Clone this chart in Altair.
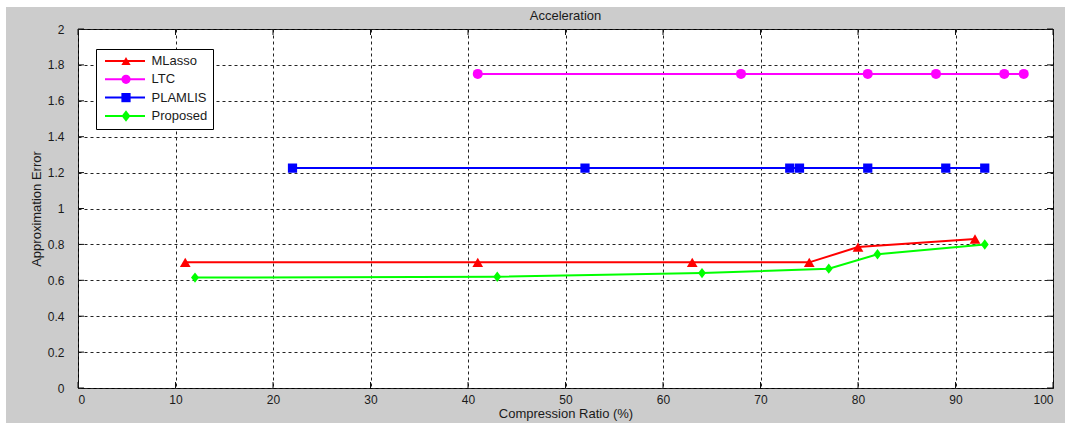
import altair as alt
import pandas as pd

# ---- data ----
series_names = ["MLasso", "LTC", "PLAMLIS", "Proposed"]
series_colors = ["#ff0000", "#ff00ff", "#0000ff", "#00ff00"]

mlasso_x = [11, 41, 63, 75, 80, 92]
mlasso_y = [0.70, 0.70, 0.70, 0.70, 0.785, 0.83]

ltc_x = [41, 68, 81, 88, 95, 97]
ltc_y = [1.75, 1.75, 1.75, 1.75, 1.75, 1.75]

plamlis_x = [22, 52, 73, 74, 81, 89, 93]
plamlis_y = [1.225, 1.225, 1.225, 1.225, 1.225, 1.225, 1.225]

proposed_x = [12, 43, 64, 77, 82, 93]
proposed_y = [0.615, 0.62, 0.64, 0.665, 0.745, 0.80]

x_ticks = [0, 10, 20, 30, 40, 50, 60, 70, 80, 90, 100]
y_ticks = [0, 0.2, 0.4, 0.6, 0.8, 1, 1.2, 1.4, 1.6, 1.8, 2]

# ---- build table ----
rows = []
for name, xs, ys in [("MLasso", mlasso_x, mlasso_y), ("LTC", ltc_x, ltc_y),
                     ("PLAMLIS", plamlis_x, plamlis_y), ("Proposed", proposed_x, proposed_y)]:
    for xv, yv in zip(xs, ys):
        rows.append({"series": name, "series2": name, "x": xv, "y": yv})
df = pd.DataFrame(rows)
xt = pd.DataFrame({"v": x_ticks})
yt = pd.DataFrame({"v": y_ticks})
one = pd.DataFrame({"k": [0]})

W, H = 975, 359
FONT = "Liberation Sans"
TXT = "#1a1a1a"
GRID = "#222222"

xscale = alt.Scale(domain=[0, 100], nice=False, zero=False)
yscale = alt.Scale(domain=[0, 2], nice=False, zero=False)

x_axis = alt.Axis(values=x_ticks, grid=True, gridDash=[3, 3], gridColor=GRID,
                  gridOpacity=1, domain=False, ticks=False, labelPadding=6,
                  labelFont=FONT, labelFontSize=12, labelColor=TXT,
                  titleFont=FONT, titleFontSize=13, titleFontWeight="normal",
                  titleColor=TXT, titlePadding=2)
y_axis = alt.Axis(values=y_ticks, format="~g", grid=True, gridDash=[3, 3],
                  gridColor=GRID, gridOpacity=1, domain=False, ticks=False,
                  labelPadding=14, labelFont=FONT, labelFontSize=12, labelColor=TXT,
                  titleFont=FONT, titleFontSize=13, titleFontWeight="normal",
                  titleColor=TXT, titlePadding=4)

diamond = "M0,-1.25L0.95,0L0,1.25L-0.95,0Z"
shape_range = ["triangle-up", "circle", "square", diamond]
size_range = [115, 70, 85, 115]

marker_legend = alt.Legend(title=None, orient="none", legendX=18, legendY=20,
                           symbolSize=85, symbolOffset=18, padding=5.5,
                           rowPadding=4.3, labelFont=FONT, labelFontSize=13,
                           labelExpr="''", symbolStrokeWidth=0, zindex=2)

line = alt.Chart(df).mark_line(strokeWidth=2).encode(
    x=alt.X("x:Q", scale=xscale, title="Compression Ratio (%)", axis=x_axis),
    y=alt.Y("y:Q", scale=yscale, title="Approximation Error", axis=y_axis),
    color=alt.Color("series:N", scale=alt.Scale(domain=series_names, range=series_colors),
                    legend=alt.Legend(title=None, orient="none", legendX=18, legendY=20,
                                      symbolType="M-4,0H4", symbolSize=100,
                                      symbolStrokeWidth=2, symbolOffset=17, labelOffset=20,
                                      padding=5.5, rowPadding=4.3, fillColor="white",
                                      strokeColor="black", labelFont=FONT, labelFontSize=13,
                                      labelColor=TXT, zindex=1)),
    detail="series:N",
)

points = alt.Chart(df).mark_point(filled=True, opacity=1, strokeWidth=0).encode(
    x=alt.X("x:Q", scale=xscale, title="Compression Ratio (%)", axis=x_axis),
    y=alt.Y("y:Q", scale=yscale, title="Approximation Error", axis=y_axis),
    fill=alt.Fill("series2:N", scale=alt.Scale(domain=series_names, range=series_colors),
                  legend=marker_legend),
    shape=alt.Shape("series2:N", scale=alt.Scale(domain=series_names, range=shape_range),
                    legend=marker_legend),
    size=alt.Size("series2:N", scale=alt.Scale(domain=series_names, range=size_range),
                  legend=None),
)

# inside tick marks (bottom/top and left/right)
tick_col = "#111111"
xt_bottom = alt.Chart(xt).mark_rule(color=tick_col, strokeWidth=1).encode(
    x=alt.X("v:Q", scale=xscale, title="Compression Ratio (%)", axis=x_axis),
    y=alt.value(H), y2=alt.value(H - 6))
xt_top = alt.Chart(xt).mark_rule(color=tick_col, strokeWidth=1).encode(
    x=alt.X("v:Q", scale=xscale, title="Compression Ratio (%)", axis=x_axis),
    y=alt.value(0), y2=alt.value(6))
yt_left = alt.Chart(yt).mark_rule(color=tick_col, strokeWidth=1).encode(
    y=alt.Y("v:Q", scale=yscale, title="Approximation Error", axis=y_axis),
    x=alt.value(0), x2=alt.value(6))
yt_right = alt.Chart(yt).mark_rule(color=tick_col, strokeWidth=1).encode(
    y=alt.Y("v:Q", scale=yscale, title="Approximation Error", axis=y_axis),
    x=alt.value(W), x2=alt.value(W - 6))

# white page margin around the grey figure
m_top = alt.Chart(one).mark_rect(fill="white").encode(
    x=alt.value(-78), x2=alt.value(W + 21), y=alt.value(-29), y2=alt.value(-22))
m_left = alt.Chart(one).mark_rect(fill="white").encode(
    x=alt.value(-78), x2=alt.value(-72), y=alt.value(-29), y2=alt.value(H + 35))
m_right = alt.Chart(one).mark_rect(fill="white").encode(
    x=alt.value(W + 12), x2=alt.value(W + 21), y=alt.value(-29), y2=alt.value(H + 35))

chart = alt.layer(line, points, xt_bottom, xt_top, yt_left, yt_right,
                  m_top, m_left, m_right).properties(
    width=W, height=H,
    title=alt.TitleParams("Acceleration", font=FONT, fontSize=13, fontWeight="normal",
                          color=TXT, anchor="middle", frame="group", offset=0, dy=23),
    background="#cccccc",
    padding={"left": 78, "top": 29, "right": 21, "bottom": 35},
    autosize=alt.AutoSizeParams(type="none"),
).configure_view(fill="white", stroke="black", strokeWidth=1).resolve_scale(
    color="independent", fill="independent", shape="independent"
)

chart.save("out.html", embed_options={"renderer": "svg", "actions": False})
